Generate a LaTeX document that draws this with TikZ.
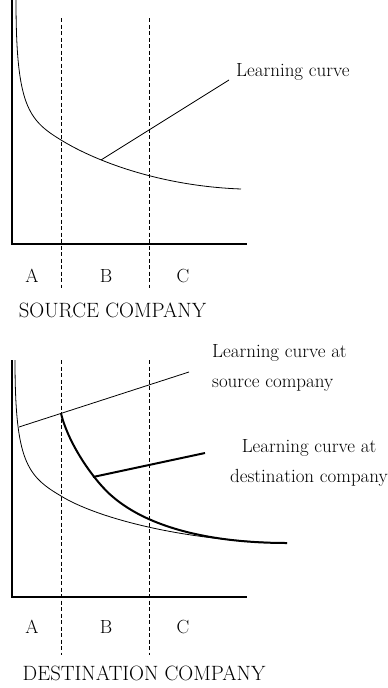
\documentclass[tikz,border=0pt]{standalone}
\usetikzlibrary{positioning}

\begin{document}
\begin{tikzpicture}[x=1pt, y=-1pt,
    axis/.style={line width=1.1pt},
    zone/.style={line width=0.8pt, dash pattern=on 4pt off 2.5pt},
    lc/.style={line width=0.8pt},
    lcthick/.style={line width=2pt},
    lbl/.style={inner sep=0pt, font=\fontsize{19}{30}\selectfont},
    complbl/.style={inner sep=0pt, font=\fontsize{20.7}{24}\selectfont}
]
\useasboundingbox (0,0) rectangle (388,688);

% source company
\coordinate (ytopS) at (12,0);
\coordinate (oS) at (12,244);
\coordinate (xendS) at (247,244);
\draw[axis] (ytopS) -- (oS) -- (xendS);
\foreach \x in {61,149} \draw[zone] (\x,18) -- (\x,288);
\draw[lc] (16,0) .. controls (16,105) and (28,120) .. (61,140)
    .. controls (95,161) and (160,186) .. (241,189);
\node[lbl, anchor=west] (lcS) at (236,72) {Learning curve};
\coordinate (lcSpt) at (101,160);
\coordinate (lcSend) at (229,80);
\draw[lc] (lcSpt) -- (lcSend);
\node[lbl] (aS) at (32,276) {A};
\node[lbl] (bS) at (106,276) {B};
\node[lbl] (cS) at (183,276) {C};
\node[complbl] (titleS) at (112.5,310) {SOURCE COMPANY};

% destination company
\coordinate (ytopD) at (12,360);
\coordinate (oD) at (12,597);
\coordinate (xendD) at (247,597);
\draw[axis] (ytopD) -- (oD) -- (xendD);
\foreach \x in {61,149} \draw[zone] (\x,360) -- (\x,655);
\draw[lc] (15,360) .. controls (15,461) and (27,476) .. (61,496)
    .. controls (95,517) and (180,541) .. (287,543);
\coordinate (srcA) at (19,427);
\coordinate (srcB) at (189,372);
\draw[lc] (srcA) -- (srcB);
\draw[lcthick] (61,413.4) .. controls (69,446) and (96,483) .. (113,497)
    .. controls (153,531) and (220,543) .. (287,543);
\coordinate (dstA) at (93,477);
\coordinate (dstB) at (205,453);
\draw[lcthick] (dstA) -- (dstB);
\node[lbl, anchor=west, align=left] (lcSrcD) at (212,368) {Learning curve at\\source company};
\node[lbl, align=center] (lcDstD) at (309,463) {Learning curve at\\destination company};
\node[lbl] (aD) at (32,627) {A};
\node[lbl] (bD) at (106,627) {B};
\node[lbl] (cD) at (183,627) {C};
\node[complbl] (titleD) at (144,673) {DESTINATION COMPANY};
\end{tikzpicture}
\end{document}
